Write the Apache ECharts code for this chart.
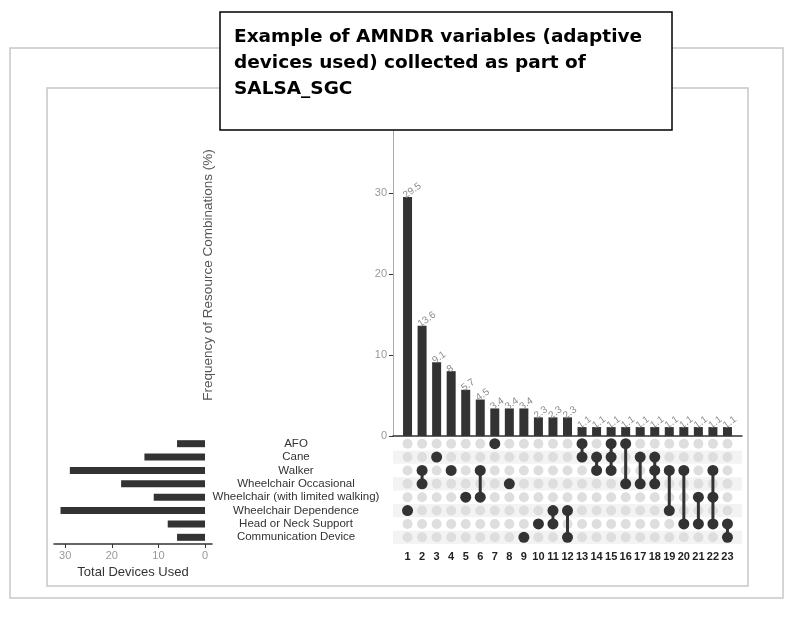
<!DOCTYPE html>
<html>
<head>
<meta charset="utf-8">
<script src="https://cdn.jsdelivr.net/npm/echarts@6/dist/echarts.min.js"></script>
<style>
  html, body { margin: 0; padding: 0; background: #fff; }
  #main { width: 790px; height: 625px; }
</style>
</head>
<body>
<div id="main"></div>
<script>
// the sets (rows of the matrix) and how many devices of each were used
var setNames = ['AFO', 'Cane', 'Walker', 'Wheelchair Occasional', 'Wheelchair (with limited walking)',
                'Wheelchair Dependence', 'Head or Neck Support', 'Communication Device'];
var setTotals = [6, 13, 29, 18, 11, 31, 8, 6];

// combinations: frequency (%) and which sets are in each one (row index)
var comboLabels = ['1','2','3','4','5','6','7','8','9','10','11','12','13','14','15','16','17','18','19','20','21','22','23'];
var comboFreq = [29.5, 13.6, 9.1, 8, 5.7, 4.5, 3.4, 3.4, 3.4, 2.3, 2.3, 2.3,
                 1.1, 1.1, 1.1, 1.1, 1.1, 1.1, 1.1, 1.1, 1.1, 1.1, 1.1];
var comboSets = [[5], [2, 3], [1], [2], [4], [2, 4], [0], [3], [7], [6], [5, 6], [5, 7],
                 [0, 1], [1, 2], [0, 1, 2], [0, 3], [1, 3], [1, 2, 3], [2, 5], [2, 6], [4, 6], [2, 4, 6], [6, 7]];

var freqTicks = [0, 10, 20, 30];
var totalTicks = [0, 10, 20, 30];

var titleLines = ['Example of AMNDR variables (adaptive', 'devices used) collected as part of', 'SALSA_SGC'];
var yTitle = 'Frequency of Resource Combinations (%)';

var dark = '#333333';
var font = 'Liberation Sans, Arial, sans-serif';

// build series data
var barData = comboFreq.map(function (v, i) { return [i + 1, v]; });
var allDots = [];
var onDots = [];
var links = [];
for (var c = 0; c < comboSets.length; c++) {
    for (var r = 0; r < setNames.length; r++) allDots.push([c + 1, r]);
    var s = comboSets[c];
    for (var k = 0; k < s.length; k++) onDots.push([c + 1, s[k]]);
    if (s.length > 1) links.push([c + 1, Math.min.apply(null, s), Math.max.apply(null, s)]);
}
var bands = [];
for (var r2 = 1; r2 < setNames.length; r2 += 2) {
    bands.push([{ xAxis: 0, yAxis: r2 - 0.5 }, { xAxis: 24, yAxis: r2 + 0.5 }]);
}

var myChart = echarts.init(document.getElementById('main'));

var option = {
    animation: false,
    textStyle: { fontFamily: font },
    grid: [
        { left: 393, right: 48, top: 128, height: 308 },     // combination bars
        { left: 393, right: 48, top: 437, height: 107 },     // matrix
        { left: 54, right: 578, top: 437, height: 107 }      // set totals
    ],
    xAxis: [
        {
            gridIndex: 0, type: 'value', min: 0, max: 24,
            axisLine: { show: true, lineStyle: { color: dark, width: 1.5 } },
            axisTick: { show: false }, axisLabel: { show: false }, splitLine: { show: false }
        },
        {
            gridIndex: 1, type: 'value', min: 0, max: 24,
            axisLine: { show: false }, axisTick: { show: false }, splitLine: { show: false },
            axisLabel: {
                customValues: comboLabels.map(function (l, i) { return i + 1; }),
                formatter: function (v) { return comboLabels[v - 1]; },
                color: '#222', fontWeight: 'bold', fontSize: 11, margin: 7
            }
        },
        {
            gridIndex: 2, type: 'value', min: -1.5, max: 32.4, inverse: true,
            axisLine: { show: true, lineStyle: { color: dark, width: 1.5 } },
            axisTick: { show: true, customValues: totalTicks, length: 4, lineStyle: { color: dark } },
            axisLabel: { customValues: totalTicks, color: '#999', fontSize: 11, margin: 6 },
            splitLine: { show: false },
            name: 'Total Devices Used', nameLocation: 'middle', nameGap: 22,
            nameTextStyle: { color: dark, fontSize: 13 }
        }
    ],
    yAxis: [
        {
            gridIndex: 0, type: 'value', min: 0, max: 38,
            axisLine: { show: true, lineStyle: { color: '#aaa' } },
            axisTick: { show: true, customValues: freqTicks, length: 4, lineStyle: { color: dark } },
            axisLabel: { customValues: freqTicks, color: '#999', fontSize: 11, margin: 6 },
            splitLine: { show: false }
        },
        {
            gridIndex: 1, type: 'value', min: -0.5, max: 7.5, inverse: true,
            axisLine: { show: false }, axisTick: { show: false }, splitLine: { show: false },
            axisLabel: { show: false }
        },
        {
            gridIndex: 2, type: 'category', data: setNames, inverse: true, position: 'right',
            axisLine: { show: false }, axisTick: { show: false },
            axisLabel: { interval: 0, color: dark, fontSize: 11.5, align: 'center', margin: 84 }
        }
    ],
    series: [
        {
            type: 'bar', xAxisIndex: 0, yAxisIndex: 0, data: barData, barWidth: 9,
            itemStyle: { color: dark },
            label: {
                show: true, position: 'top', rotate: 35, align: 'left', verticalAlign: 'middle',
                distance: 3, offset: [-4, 0], color: '#888', fontSize: 10
            }
        },
        {
            type: 'scatter', xAxisIndex: 1, yAxisIndex: 1, data: allDots, symbolSize: 10,
            itemStyle: { color: '#dedede', opacity: 1 }, silent: true,
            markArea: { silent: true, itemStyle: { color: '#f3f3f3' }, data: bands }
        },
        {
            type: 'custom', xAxisIndex: 1, yAxisIndex: 1, data: links, z: 3,
            renderItem: function (params, api) {
                var p1 = api.coord([api.value(0), api.value(1)]);
                var p2 = api.coord([api.value(0), api.value(2)]);
                return {
                    type: 'line',
                    shape: { x1: p1[0], y1: p1[1], x2: p2[0], y2: p2[1] },
                    style: { stroke: dark, lineWidth: 3 }
                };
            }
        },
        {
            type: 'scatter', xAxisIndex: 1, yAxisIndex: 1, data: onDots, symbolSize: 11, z: 4,
            itemStyle: { color: dark, opacity: 1 }
        },
        {
            type: 'bar', xAxisIndex: 2, yAxisIndex: 2, data: setTotals, barWidth: 7,
            itemStyle: { color: dark }
        }
    ],
    graphic: [
        { type: 'rect', z: 0, shape: { x: 10, y: 48, width: 773, height: 550 },
          style: { fill: 'none', stroke: '#c8c8c8', lineWidth: 1.5 } },
        { type: 'rect', z: 0, shape: { x: 47, y: 88, width: 701, height: 498 },
          style: { fill: 'none', stroke: '#c8c8c8', lineWidth: 1.5 } },
        { type: 'text', z: 5, x: 208, y: 275, rotation: Math.PI / 2,
          style: { text: yTitle, fill: '#555', font: '13.5px Liberation Sans, Arial, sans-serif',
                   align: 'center', verticalAlign: 'middle' } },
        { type: 'rect', z: 100, shape: { x: 220, y: 12, width: 452, height: 118 },
          style: { fill: '#fff', stroke: '#000', lineWidth: 1.5 } },
        { type: 'text', z: 101, left: 234, top: 24,
          style: { text: titleLines.join('\n'), fill: '#000', font: 'bold 18.5px DejaVu Sans, sans-serif', lineHeight: 26 } }
    ]
};

myChart.setOption(option, true);
</script>
</body>
</html>
